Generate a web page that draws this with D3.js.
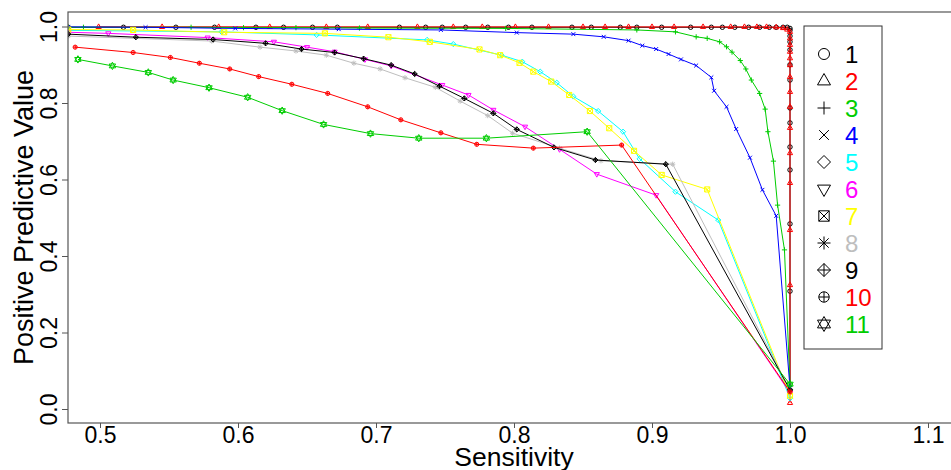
<!DOCTYPE html>
<html>
<head>
<meta charset="utf-8">
<script src="https://cdn.jsdelivr.net/npm/d3@7"></script>
<style>
  body { margin: 0; background: #fff; }
  svg text { font-family: "Liberation Sans", Arial, sans-serif; }
</style>
</head>
<body>
<svg id="chart"></svg>
<script>
// series values (sensitivity, PPV)
const sens1 = [0.477,0.517,0.555,0.583,0.613,0.633,0.654,0.672,0.717,0.736,0.748,0.765,0.781,0.796,0.813,0.842,0.856,0.877,0.889,0.907,0.928,0.943,0.951,0.960,0.970,0.978,0.985,0.990,0.995,0.998,1.0,1.0,1.0,1.0,1.0,1.0,1.0,1.0,1.0,1.0,1.0,1.0,1.0,1.0];
const ppv1  = [0.998,0.998,0.998,0.998,0.998,0.998,0.998,0.998,0.998,0.998,0.998,0.998,0.998,0.998,0.998,0.998,0.998,0.998,0.998,0.998,0.998,0.998,0.998,0.998,0.998,0.998,0.998,0.998,0.998,0.998,0.995,0.990,0.975,0.960,0.939,0.900,0.860,0.787,0.748,0.685,0.625,0.484,0.308,0.050];
const sens2 = [0.499,0.545,0.586,0.623,0.664,0.694,0.730,0.756,0.777,0.801,0.825,0.850,0.866,0.883,0.900,0.916,0.937,0.957,0.967,0.976,0.983,0.990,0.995,0.998,1.0,1.0,1.0,1.0,1.0,1.0,1.0,1.0,1.0,1.0,1.0,1.0,1.0,1.0,1.0];
const ppv2  = [0.999,0.999,0.999,0.999,0.999,0.999,0.999,0.999,0.999,0.999,0.999,0.999,0.999,0.999,0.999,0.999,0.999,0.999,0.999,0.999,0.999,0.998,0.996,0.992,0.986,0.969,0.952,0.934,0.917,0.899,0.868,0.829,0.790,0.735,0.669,0.591,0.468,0.324,0.016];
const sens3 = [0.477,0.488,0.566,0.604,0.642,0.688,0.794,0.889,0.917,0.932,0.940,0.949,0.954,0.958,0.964,0.968,0.972,0.978,0.982,0.984,0.988,0.991,0.996,1.0];
const ppv3  = [0.998,0.998,0.998,0.997,0.997,0.996,0.995,0.991,0.986,0.973,0.969,0.960,0.947,0.933,0.911,0.889,0.860,0.825,0.784,0.725,0.648,0.533,0.416,0.060];
const sens4 = [0.477,0.533,0.598,0.673,0.747,0.802,0.843,0.865,0.883,0.893,0.903,0.912,0.921,0.932,0.943,0.945,0.954,0.961,0.971,0.980,0.990,1.0];
const ppv4  = [0.999,0.998,0.995,0.993,0.991,0.984,0.980,0.973,0.963,0.950,0.941,0.928,0.914,0.898,0.867,0.832,0.790,0.732,0.657,0.573,0.505,0.055];
const sens5 = [0.477,0.588,0.657,0.737,0.756,0.791,0.806,0.819,0.831,0.843,0.861,0.879,0.891,0.917,0.948,1.0];
const ppv5  = [0.990,0.986,0.978,0.965,0.954,0.925,0.908,0.882,0.853,0.817,0.779,0.725,0.654,0.568,0.494,0.028];
const sens6 = [0.477,0.506,0.578,0.626,0.650,0.670,0.692,0.711,0.748,0.767,0.785,0.808,0.833,0.860,0.903,1.0];
const ppv6  = [0.985,0.982,0.971,0.960,0.946,0.934,0.914,0.897,0.847,0.821,0.782,0.738,0.679,0.614,0.559,0.042];
const sens7 = [0.477,0.524,0.590,0.663,0.709,0.739,0.775,0.790,0.804,0.814,0.827,0.840,0.855,0.869,0.887,0.907,0.940,1.0];
const ppv7  = [0.992,0.991,0.985,0.982,0.972,0.960,0.940,0.925,0.905,0.882,0.856,0.821,0.779,0.734,0.675,0.612,0.574,0.035];
const sens8 = [0.477,0.581,0.616,0.642,0.664,0.684,0.703,0.721,0.743,0.761,0.781,0.799,0.833,0.863,0.915,1.0];
const ppv8  = [0.975,0.962,0.946,0.936,0.925,0.904,0.889,0.866,0.841,0.805,0.767,0.721,0.682,0.649,0.640,0.050];
const sens9 = [0.477,0.526,0.582,0.620,0.646,0.670,0.691,0.711,0.728,0.746,0.764,0.785,0.802,0.829,0.859,0.910,1.0];
const ppv9  = [0.980,0.972,0.966,0.956,0.941,0.932,0.916,0.899,0.876,0.844,0.812,0.773,0.731,0.684,0.651,0.640,0.050];
const sens10 = [0.482,0.524,0.551,0.572,0.594,0.615,0.639,0.665,0.694,0.718,0.747,0.773,0.814,0.878,1.0];
const ppv10  = [0.946,0.932,0.919,0.904,0.889,0.869,0.849,0.825,0.790,0.756,0.722,0.692,0.682,0.690,0.045];
const sens11 = [0.484,0.509,0.535,0.553,0.579,0.607,0.632,0.662,0.696,0.731,0.780,0.853,1.0];
const ppv11  = [0.914,0.897,0.880,0.860,0.840,0.815,0.780,0.744,0.720,0.708,0.708,0.725,0.065];

const seriesNames = ["1","2","3","4","5","6","7","8","9","10","11"];
const seriesColors = ["#000000","#FF0000","#00CD00","#0000FF","#00FFFF","#FF00FF","#FFFF00","#BEBEBE","#000000","#FF0000","#00CD00"];
const xTicks = [0.5, 0.6, 0.7, 0.8, 0.9, 1.0, 1.1];
const yTicks = [0.0, 0.2, 0.4, 0.6, 0.8, 1.0];

const sensAll = [sens1,sens2,sens3,sens4,sens5,sens6,sens7,sens8,sens9,sens10,sens11];
const ppvAll = [ppv1,ppv2,ppv3,ppv4,ppv5,ppv6,ppv7,ppv8,ppv9,ppv10,ppv11];

const W = 951, H = 470;
const frame = {left: 68, top: 12, right: 1000, bottom: 423};

const svg = d3.select('#chart').attr('width', W).attr('height', H);

const xScale = d3.scaleLinear().domain([0.5, 1.0]).range([100, 790]);
const yScale = d3.scaleLinear().domain([0, 1]).range([409, 26.5]);

// R pch style symbols, s = half size
function pch(k, s) {
  const c = (r) => `M${-r},0A${r},${r} 0 1,0 ${r},0A${r},${r} 0 1,0 ${-r},0Z`;
  const up = (r) => `M0,${-r*1.15}L${r},${r*0.6}L${-r},${r*0.6}Z`;
  const dn = (r) => `M0,${r*1.15}L${r},${-r*0.6}L${-r},${-r*0.6}Z`;
  const plus = (r) => `M${-r},0H${r}M0,${-r}V${r}`;
  const ex = (r) => `M${-r},${-r}L${r},${r}M${-r},${r}L${r},${-r}`;
  const dia = (r) => `M0,${-r}L${r},0L0,${r}L${-r},0Z`;
  switch (k) {
    case 1: return c(s * 0.85);
    case 2: return up(s);
    case 3: return plus(s);
    case 4: return ex(s * 0.75);
    case 5: return dia(s);
    case 6: return dn(s);
    case 7: { const r = s * 0.8; return `M${-r},${-r}H${r}V${r}H${-r}Z` + ex(r); }
    case 8: return plus(s) + ex(s * 0.72);
    case 9: return dia(s) + plus(s);
    case 10: return c(s * 0.8) + plus(s * 0.8);
    case 11: return up(s) + dn(s);
  }
}

svg.append('defs').append('clipPath').attr('id', 'plotclip')
  .append('rect')
    .attr('x', frame.left).attr('y', frame.top)
    .attr('width', W - frame.left).attr('height', frame.bottom - frame.top);

const plot = svg.append('g').attr('clip-path', 'url(#plotclip)');

const line = d3.line().x(d => xScale(d[0])).y(d => yScale(d[1]));

// draw series, later ones on top like R
sensAll.forEach((xs, i) => {
  const pts = xs.map((x, j) => [x, ppvAll[i][j]]);
  plot.append('path')
    .datum(pts)
    .attr('d', line)
    .attr('fill', 'none')
    .attr('stroke', seriesColors[i])
    .attr('stroke-width', 1);
  const size = (i + 1 === 7 || i + 1 === 11) ? 3.2 : 2.6;
  plot.selectAll(null)
    .data(pts)
    .join('path')
      .attr('transform', d => `translate(${xScale(d[0])},${yScale(d[1])})`)
      .attr('d', pch(i + 1, size))
      .attr('fill', 'none')
      .attr('stroke', seriesColors[i])
      .attr('stroke-width', 1);
});

// frame (the right edge falls outside the picture)
svg.append('rect')
  .attr('x', frame.left).attr('y', frame.top)
  .attr('width', frame.right - frame.left).attr('height', frame.bottom - frame.top)
  .attr('fill', 'none').attr('stroke', '#555').attr('stroke-width', 1.2);

// axes
const xAxis = svg.append('g')
  .attr('transform', `translate(0,${frame.bottom})`)
  .call(d3.axisBottom(xScale).tickValues(xTicks).tickSize(5).tickFormat(d3.format('.1f')));
xAxis.select('.domain').remove();
xAxis.selectAll('line').attr('stroke', '#555');
xAxis.selectAll('text')
  .attr('font-size', 23).attr('fill', '#000')
  .attr('dy', null).attr('y', 20);

const yAxis = svg.append('g')
  .attr('transform', `translate(${frame.left},0)`)
  .call(d3.axisLeft(yScale).tickValues(yTicks).tickSize(6).tickFormat(d3.format('.1f')));
yAxis.select('.domain').remove();
yAxis.selectAll('line').attr('stroke', '#555');
yAxis.selectAll('text')
  .attr('font-size', 23).attr('fill', '#000')
  .attr('x', null).attr('dy', null)
  .attr('text-anchor', 'middle')
  .attr('transform', 'translate(-11,0) rotate(-90)');

svg.append('text')
  .attr('x', 514).attr('y', 466)
  .attr('text-anchor', 'middle')
  .attr('font-size', 26.5)
  .text('Sensitivity');

svg.append('text')
  .attr('transform', 'translate(33,217.5) rotate(-90)')
  .attr('text-anchor', 'middle')
  .attr('font-size', 27)
  .text('Positive Predictive Value');

// legend
const legend = svg.append('g');
legend.append('rect')
  .attr('x', 804).attr('y', 26).attr('width', 78).attr('height', 323)
  .attr('fill', '#fff').attr('stroke', '#333').attr('stroke-width', 1);

const rowY = d3.scalePoint().domain(seriesNames).range([54, 324]);
const rows = legend.selectAll('g.row')
  .data(seriesNames)
  .join('g')
    .attr('class', 'row')
    .attr('transform', d => `translate(0,${rowY(d)})`);
rows.append('path')
  .attr('transform', 'translate(824,0)')
  .attr('d', (d, i) => pch(i + 1, 6.5))
  .attr('fill', 'none').attr('stroke', '#000').attr('stroke-width', 1);
rows.append('text')
  .attr('x', 845).attr('y', 8.5)
  .attr('font-size', 24)
  .attr('fill', (d, i) => seriesColors[i])
  .text(d => d);
</script>
</body>
</html>
